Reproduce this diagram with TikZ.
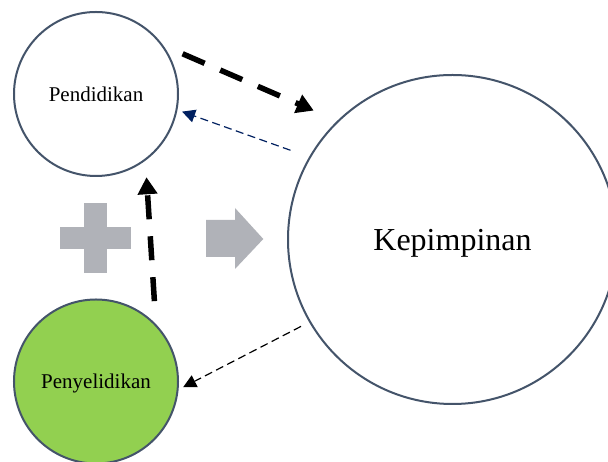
\documentclass[tikz,border=0pt]{standalone}
\usepackage{fontspec}
\setmainfont{Liberation Serif}
\usetikzlibrary{arrows.meta}
\definecolor{ringcol}{HTML}{44546A}
\definecolor{greenfill}{HTML}{92D050}
\definecolor{navy}{HTML}{002060}
\definecolor{shapegray}{HTML}{B0B2B8}
\tikzset{
  ring/.style={circle, draw=ringcol, line width=2pt, inner sep=0pt, outer sep=0pt, text depth=0pt},
  thickdash/.style={line width=5.5pt, dash pattern=on 24pt off 17pt, -{Triangle[length=17pt,width=19pt]}},
  thindash/.style={line width=1.2pt, dash pattern=on 8pt off 4.5pt, -{Triangle[length=13pt,width=13pt]}},
}
\begin{document}
\begin{tikzpicture}[x=1pt,y=1pt]
\useasboundingbox (0,0) rectangle (608,462);
\clip (0,0) rectangle (608,462);
\fill[white] (0,0) rectangle (608,462);
% circles
\node[ring, minimum size=329pt, font=\fontsize{32}{36}\selectfont] (kep) at (452.5,222.5) {Kepimpinan};
\node[ring, minimum size=164pt, font=\fontsize{21}{24}\selectfont] (pend) at (96,368) {Pendidikan};
\node[ring, fill=greenfill, minimum size=164pt, font=\fontsize{21}{24}\selectfont] (peny) at (96,80.5) {Penyelidikan};
% plus sign
\fill[shapegray] (60,212.7) rectangle (131,235.3);
\fill[shapegray] (84.3,188.7) rectangle (107.3,259.3);
% block arrow
\fill[shapegray] (206,205) -- (235,205) -- (235,193) -- (263.3,223) -- (235,254) -- (235,242) -- (206,242) -- cycle;
% connectors
\draw[thickdash, shorten <=23pt, shorten >=26.7pt] (pend.37.5) -- (kep.134.7);
\draw[thindash, navy, shorten <=20.8pt, shorten >=5.9pt] (kep.150.5) -- (pend.-11.1);
\draw[thickdash, shorten <=24.5pt, shorten >=17.8pt] (peny.43.3) -- (pend.-53.9);
\draw[thindash, black, shorten <=10.2pt, shorten >=6.3pt] (kep.210.5) -- (peny.-6.9);
\end{tikzpicture}
\end{document}
